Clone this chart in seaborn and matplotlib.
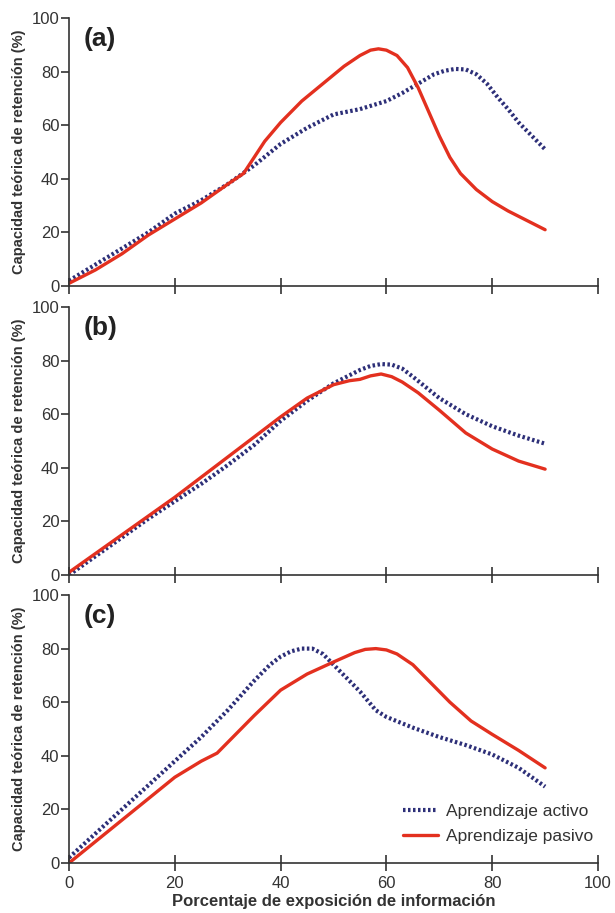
import pandas as pd
import matplotlib
matplotlib.use('Agg')
import matplotlib.pyplot as plt
import seaborn as sns

# exposure (%) and theoretical retention (%) per panel
x_a_act = [0, 5, 10, 15, 20, 25, 30, 35, 40, 45, 50, 55, 60, 63, 66, 69, 71, 73, 75, 77, 79, 81, 83, 85, 87, 90]
y_a_act = [2, 8, 14, 20, 27, 32, 38, 45, 53, 59, 64, 66, 69, 72, 75.5, 79, 80.3, 81, 80.8, 79, 75.5, 70.5, 66, 61, 57, 51]
x_a_pas = [0, 5, 10, 15, 20, 25, 30, 33, 35, 37, 40, 44, 48, 52, 55, 57, 58.5, 60, 62, 64, 66, 68, 70, 72, 74, 77, 80, 83, 86, 90]
y_a_pas = [1, 6, 12, 19, 25, 31, 38, 42, 48, 54, 61, 69, 75.5, 82, 86, 88, 88.5, 88, 86, 81.5, 74, 65, 56, 48, 42, 36, 31.5, 28, 25, 21]

x_b_act = [0, 5, 10, 15, 20, 25, 30, 35, 40, 45, 50, 55, 57, 59, 61, 63, 65, 70, 75, 80, 85, 90]
y_b_act = [0, 7, 14, 21, 27.5, 34, 41, 48.5, 57.5, 65, 71.5, 76.5, 78, 78.7, 78.5, 77, 74, 66, 60, 55.5, 52, 49]
x_b_pas = [0, 5, 10, 15, 20, 25, 30, 35, 40, 45, 50, 53, 55, 57, 59, 61, 63, 66, 70, 75, 80, 85, 90]
y_b_pas = [1, 8, 15, 22, 29, 36.5, 44, 51.5, 59, 66, 71, 72.5, 73, 74.3, 75, 74, 72, 68, 61.5, 53, 47, 42.5, 39.5]

x_c_act = [0, 5, 10, 15, 20, 25, 30, 35, 38, 40, 42, 44, 46, 48, 50, 55, 58, 60, 65, 70, 75, 80, 85, 90]
y_c_act = [2, 11, 20, 29, 38, 47, 57, 68, 74, 77, 79, 80, 80, 78, 74, 64, 57, 54.5, 50.5, 47, 44, 40.5, 35.5, 28.5]
x_c_pas = [0, 5, 10, 15, 20, 25, 28, 31, 35, 40, 45, 50, 54, 56, 58, 60, 62, 65, 68, 72, 76, 80, 85, 90]
y_c_pas = [0, 8, 16, 24, 32, 38, 41, 47, 55, 64.5, 70.5, 75, 78.5, 79.7, 80, 79.5, 78, 74, 68, 60, 53, 48, 42, 35.5]

panel_names = ['(a)', '(b)', '(c)']
series_labels = ['Aprendizaje activo', 'Aprendizaje pasivo']
y_label = 'Capacidad teórica de retención (%)'
x_label = 'Porcentaje de exposición de información'

active_color = '#2d2f78'
passive_color = '#e3301f'

sns.set_style('white')
plt.rcParams['font.family'] = ['Liberation Sans', 'DejaVu Sans']

fig = plt.figure(figsize=(6.15, 9.13), dpi=100)
left, width = 69 / 615, 529 / 615
tops = [18, 307, 595]
height = 268 / 913

data = [(x_a_act, y_a_act, x_a_pas, y_a_pas),
        (x_b_act, y_b_act, x_b_pas, y_b_pas),
        (x_c_act, y_c_act, x_c_pas, y_c_pas)]

for i, (top, name, (xa, ya, xp, yp)) in enumerate(zip(tops, panel_names, data)):
    ax = fig.add_axes([left, 1 - (top + 268) / 913, width, height])
    ax.set_facecolor('none')
    sns.lineplot(x=xa, y=ya, ax=ax, color=active_color, linestyle=(0, (0.6, 0.6)),
                 linewidth=3, label=series_labels[0])
    sns.lineplot(x=xp, y=yp, ax=ax, color=passive_color, linewidth=2.4,
                 label=series_labels[1])
    ax.set_xlim(0, 100)
    ax.set_ylim(0, 100)
    ax.set_xticks([0, 20, 40, 60, 80, 100])
    ax.set_yticks([0, 20, 40, 60, 80, 100])
    for s in ['top', 'right']:
        ax.spines[s].set_visible(False)
    for s in ['left', 'bottom']:
        ax.spines[s].set_color('#333333')
        ax.spines[s].set_linewidth(1.2)
    ax.tick_params(axis='x', direction='inout', length=12, width=1.2, color='#333333',
                   labelsize=12, labelcolor='#333333', bottom=True)
    ax.tick_params(axis='y', direction='out', length=6, width=1.2, color='#333333',
                   labelsize=12, labelcolor='#333333', left=True, pad=1)
    ax.set_ylabel(y_label, fontsize=10.5, fontweight='bold', color='#333333', labelpad=4)
    ax.set_xlabel('')
    ax.text(0.028, 0.965, name, transform=ax.transAxes, fontsize=19, fontweight='bold',
            color='#222222', va='top', ha='left')
    if i < 2:
        ax.set_xticklabels([])
        ax.get_legend().remove()
    else:
        ax.set_xlabel(x_label, fontsize=12, fontweight='bold', color='#333333', labelpad=2)
        ax.legend(loc='lower right', frameon=False, fontsize=12.5, handlelength=2.0,
                  handletextpad=0.5, labelspacing=0.55, borderaxespad=0,
                  labelcolor='#333333', bbox_to_anchor=(1.005, 0.045))

fig.savefig('out.png', dpi=100)
